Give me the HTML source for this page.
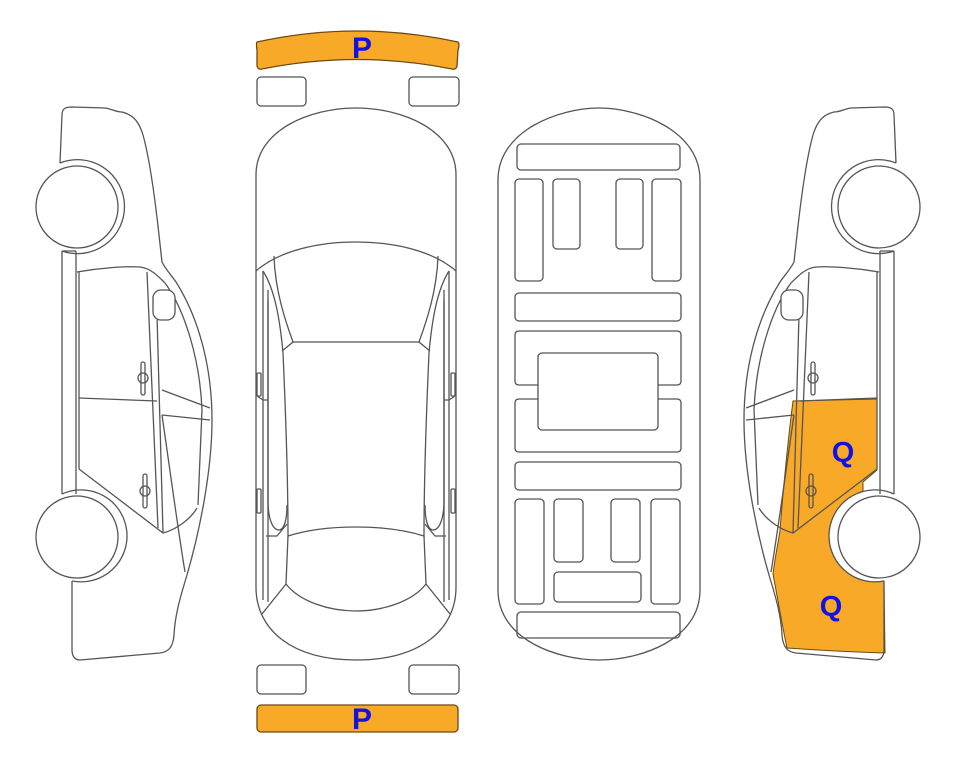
<!DOCTYPE html>
<html><head><meta charset="utf-8"><style>
html,body{margin:0;padding:0;background:#fff;}
svg{display:block;}
</style></head><body>
<svg width="963" height="768" viewBox="0 0 963 768" xmlns="http://www.w3.org/2000/svg">
<defs>
<g id="car" fill="none" stroke="#555" stroke-width="1.3">
  <path d="M62,115 C62,108 66,107 72,107 L105,108 C112,109 116,112 122,112 C130,114 138,118 143,135 C150,160 155,200 158,226 L162,262 C166,270 172,276 176,282 C200,320 212,370 212,420 C212,470 200,530 187,575 C180,598 175,615 174,635 C173,648 168,652 160,653 L80,660 C74,660 72,655 72,650 L72,581"/>
  <path d="M62,115 L60,163"/>
  <path d="M60,163 A47,47 0 1 1 62,251"/>
  <path d="M62,494 A46,46 0 1 1 72,581"/>
  <path d="M62,251 L62,494 M76,251 L76,494 M62,251 L76,251"/>
  <path d="M77,272 C100,268 125,266 140,267 C150,268 157,275 165,283"/>
  <path d="M79,272 L79,469"/>
  <path d="M147,272 L158,528"/>
  <path d="M157,315 L163,533"/>
  <path d="M79,469 L163,533 C175,530 190,520 197,508"/>
  <path d="M165,283 C185,310 200,360 202,410 L198,505"/>
  <path d="M79,398 L157,401"/>
  <path d="M162,390 L210,408 M162,415 L210,420"/>
  <path d="M162,415 C170,470 178,530 185,572"/>
  <rect x="153" y="290" width="22" height="30" rx="8" fill="#fff"/>
  <rect x="141" y="362" width="4" height="33" rx="2"/>
  <circle cx="143" cy="378" r="5"/>
  <rect x="143" y="474" width="4" height="34" rx="2"/>
  <circle cx="145" cy="491" r="5"/>
  <circle cx="77" cy="207" r="41" fill="#fff"/>
  <circle cx="77" cy="537" r="41" fill="#fff"/>
</g>
</defs>

<use href="#car"/>

<path d="M793,401 L877,399 L877,470 L863,482 L863,494 A46,46 0 0 0 884,581 L885,653 C850,652 815,650 787,648 C782,625 778,600 773,574 C776,550 779,540 780,530 C784,480 788,440 793,401 Z" fill="#F9A928" stroke="#6b4a10" stroke-width="1"/>
<circle cx="875" cy="536" r="45.5" fill="#fff"/>
<g transform="translate(956,0) scale(-1,1)"><use href="#car"/></g>

<g fill="none" stroke="#555" stroke-width="1.3">
  <path d="M257,42 Q357,20 458,42 Q460,44 458,50 L457,66 Q456,70 452,69 Q357,50 262,69 Q258,70 257,66 L257,50 Q256,44 257,42 Z" fill="#F9A928" stroke="#6b4a10"/>
  <rect x="257" y="77" width="49" height="29" rx="4"/>
  <rect x="409" y="77" width="50" height="29" rx="4"/>
  <rect x="257" y="665" width="49" height="29" rx="4"/>
  <rect x="409" y="665" width="50" height="29" rx="4"/>
  <rect x="257" y="705" width="201" height="27" rx="4" fill="#F9A928" stroke="#6b4a10"/>
  <path d="M256,175 C256,130 310,108 356,108 C402,108 456,130 456,175 L456,587 C456,630 420,660 356,660 C292,660 256,630 256,587 Z"/>
  <path d="M256,271 C280,250 320,242 356,242 C392,242 432,250 456,271"/>
  <path d="M274,256 C275,290 285,320 293,342 L282,351"/>
  <path d="M438,256 C437,290 427,320 419,342 L430,351"/>
  <path d="M263,271 C275,290 280,320 283,353"/>
  <path d="M449,271 C437,290 432,320 429,353"/>
  <path d="M293,342 L419,342"/>
  <path d="M283,353 C286,420 288,480 288,536 C310,529 335,527 356,527 C377,527 402,529 424,536 C424,480 426,420 429,353"/>
  <path d="M288,536 L286,584 C300,602 330,611 356,611 C382,611 412,602 426,584 L424,536"/>
  <path d="M286,584 L262,614 M426,584 L450,614"/>
  <path d="M263,271 L263,600 M449,271 L449,600"/>
  <path d="M268,290 L268,602 M444,290 L444,602"/>
  <path d="M268,300 L268,500 C268,520 273,530 279,530 C284,530 287,520 287,505"/>
  <path d="M444,300 L444,500 C444,520 439,530 433,530 C428,530 425,520 425,505"/>
  <rect x="257" y="373" width="4" height="23" rx="1"/>
  <rect x="257" y="489" width="4" height="24" rx="1"/>
  <rect x="451" y="373" width="4" height="23" rx="1"/>
  <rect x="451" y="489" width="4" height="24" rx="1"/>
  <path d="M257,396 L263,400 L268,400 M455,396 L449,400 L444,400"/>
  <path d="M266,536 L277,536 L287,524 M446,536 L435,536 L425,524"/>
</g>

<g fill="none" stroke="#555" stroke-width="1.3">
  <path d="M498,180 C498,130 560,108 599,108 C638,108 700,130 700,180 L700,590 C700,640 640,660 599,660 C558,660 498,640 498,590 Z"/>
  <rect x="517" y="144" width="163" height="26" rx="4"/>
  <rect x="515" y="179" width="28" height="102" rx="4"/>
  <rect x="553" y="179" width="27" height="70" rx="4"/>
  <rect x="616" y="179" width="27" height="70" rx="4"/>
  <rect x="652" y="179" width="29" height="102" rx="4"/>
  <rect x="515" y="293" width="166" height="28" rx="4"/>
  <path d="M538,385 L519,385 Q515,385 515,381 L515,335 Q515,331 519,331 L677,331 Q681,331 681,335 L681,381 Q681,385 677,385 L658,385"/>
  <path d="M538,399 L519,399 Q515,399 515,403 L515,448 Q515,452 519,452 L677,452 Q681,452 681,448 L681,403 Q681,399 677,399 L658,399"/>
  <rect x="538" y="353" width="120" height="77" rx="4"/>
  <rect x="515" y="462" width="166" height="28" rx="4"/>
  <rect x="515" y="499" width="29" height="105" rx="4"/>
  <rect x="554" y="499" width="29" height="63" rx="4"/>
  <rect x="611" y="499" width="29" height="63" rx="4"/>
  <rect x="651" y="499" width="29" height="105" rx="4"/>
  <rect x="554" y="572" width="87" height="30" rx="4"/>
  <rect x="517" y="612" width="163" height="26" rx="4"/>
</g>

<g font-family="Liberation Sans, sans-serif" font-weight="bold" fill="#1212e6" text-anchor="middle">
  <text x="362" y="58" font-size="30">P</text>
  <text x="362" y="729" font-size="30">P</text>
  <text x="843" y="462" font-size="29">Q</text>
  <text x="831" y="616" font-size="29">Q</text>
</g>
</svg>
</body></html>
